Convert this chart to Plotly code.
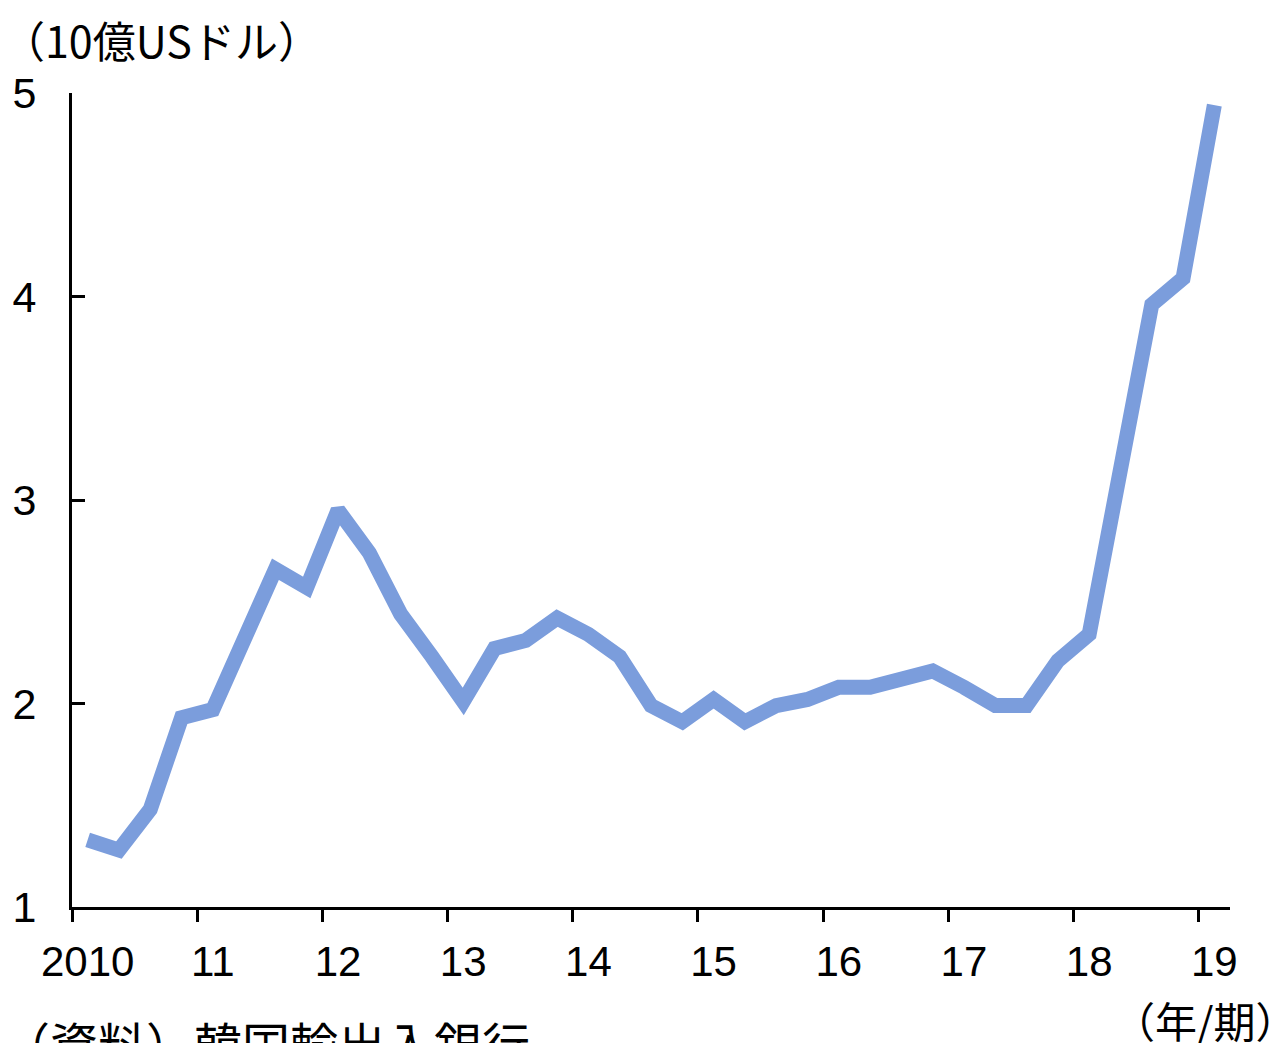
import plotly.graph_objects as go

# Quarterly values, 2010Q1 - 2019Q1 (billion USD)
years = [2010, 2011, 2012, 2013, 2014, 2015, 2016, 2017, 2018, 2019]
quarters = [f"{y}Q{q}" for y in years for q in range(1, 5)][:37]
values = [
    1.33, 1.28, 1.48, 1.93,
    1.97, 2.30, 2.66, 2.57,
    2.95, 2.74, 2.44, 2.23,
    2.01, 2.27, 2.31, 2.42,
    2.34, 2.23, 1.99, 1.91,
    2.02, 1.91, 1.99, 2.02,
    2.08, 2.08, 2.12, 2.16,
    2.08, 1.99, 1.99, 2.21,
    2.34, 3.15, 3.96, 4.09,
    4.94,
]
year_labels = ["2010", "11", "12", "13", "14", "15", "16", "17", "18", "19"]
y_ticks = [1, 2, 3, 4, 5]

x_pos = list(range(len(quarters)))
label_pos = [4 * i for i in range(len(year_labels))]

LINE_COLOR = "#7B9DDC"
NUM_FONT = "Liberation Sans, Arial, sans-serif"
JP_FONT = "Noto Sans CJK JP, sans-serif"

fig = go.Figure()
fig.add_trace(go.Scatter(
    x=x_pos, y=values, customdata=quarters,
    mode="lines",
    line=dict(color=LINE_COLOR, width=15),
    hovertemplate="%{customdata}: %{y}<extra></extra>",
    showlegend=False,
))

fig.update_layout(
    width=1284, height=1043,
    margin=dict(l=72, r=54, t=93, b=136),
    paper_bgcolor="white", plot_bgcolor="white",
    xaxis=dict(
        range=[-0.5, 36.5],
        tickvals=label_pos, ticktext=year_labels,
        ticks="", ticklen=0,
        ticklabelstandoff=16,
        showline=True, linecolor="black", linewidth=3,
        showgrid=False, zeroline=False,
        tickfont=dict(family=NUM_FONT, size=42, color="black"),
        minor=dict(tick0=-0.5, dtick=4, ticks="outside", ticklen=12,
                   tickwidth=3, tickcolor="black", showgrid=False),
    ),
    yaxis=dict(
        range=[1, 5],
        tickvals=y_ticks,
        ticks="inside", ticklen=13, tickwidth=3, tickcolor="black",
        ticklabelstandoff=24,
        showline=True, linecolor="black", linewidth=3,
        showgrid=False, zeroline=False,
        tickfont=dict(family=NUM_FONT, size=43, color="black"),
    ),
    annotations=[
        dict(text="（10億USドル）", xref="paper", yref="paper",
             x=-0.062, y=1.066, xanchor="left", yanchor="middle",
             showarrow=False,
             font=dict(family=JP_FONT, size=43, color="black")),
        dict(text="（年/期）", xref="paper", yref="paper",
             x=1.060, y=-0.138, xanchor="right", yanchor="middle",
             showarrow=False,
             font=dict(family=JP_FONT, size=42, color="black")),
        dict(text="（資料）韓国輸出入銀行", xref="paper", yref="paper",
             x=-0.062, y=-0.121, xanchor="left", yanchor="top",
             showarrow=False,
             font=dict(family=JP_FONT, size=48, color="black")),
    ],
)

fig.write_html("out.html")
